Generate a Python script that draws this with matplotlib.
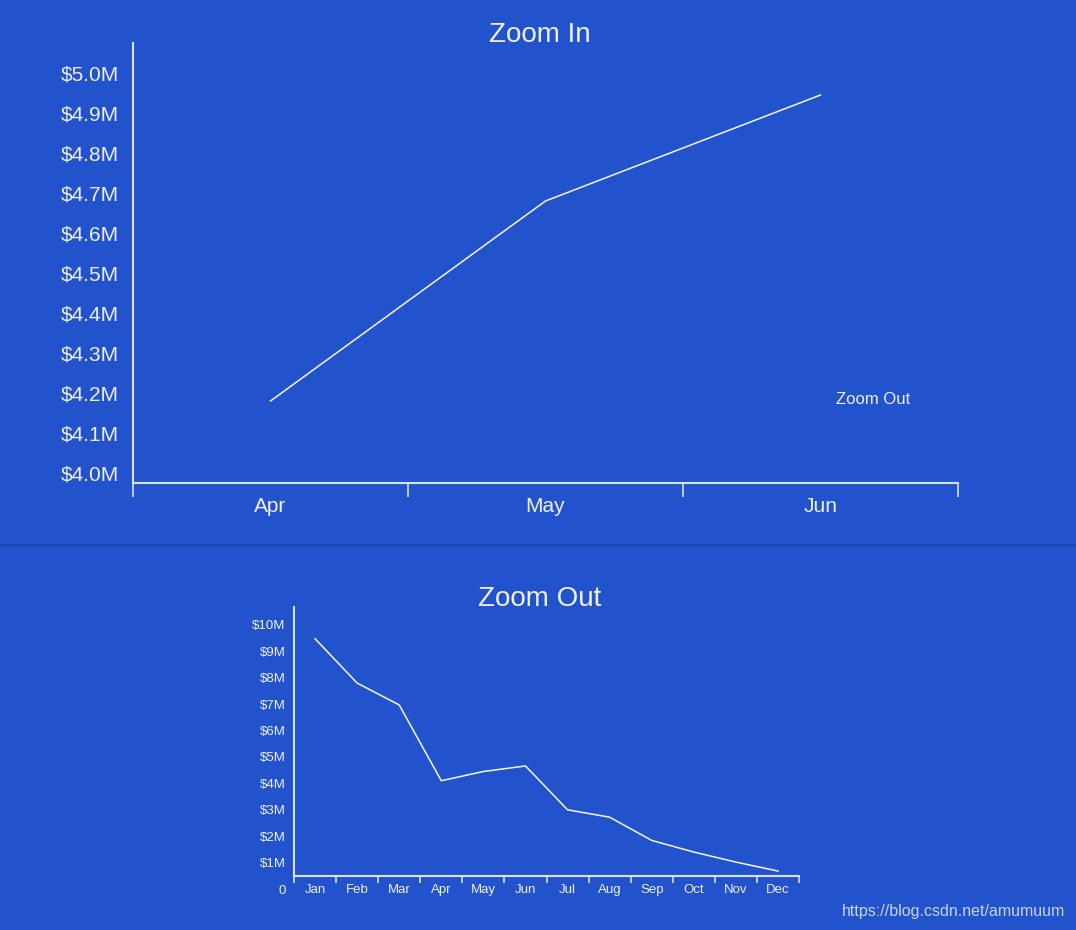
import matplotlib.pyplot as plt
from matplotlib.lines import Line2D
from matplotlib.ticker import FixedLocator, FuncFormatter

BG    = '#2353CC'
FG    = '#EEF1FA'
LINE  = '#F4F6FC'
SPINE = '#D8E0F4'

plt.rcParams['font.family'] = ['Liberation Sans', 'DejaVu Sans']

# Zoom In data (millions)
q_months = ['Apr', 'May', 'Jun']
q_values = [4.18, 4.68, 4.945]
q_ticks  = [4.0, 4.1, 4.2, 4.3, 4.4, 4.5, 4.6, 4.7, 4.8, 4.9, 5.0]

# Zoom Out data (millions)
y_months = ['Jan', 'Feb', 'Mar', 'Apr', 'May', 'Jun',
            'Jul', 'Aug', 'Sep', 'Oct', 'Nov', 'Dec']
y_values = [9.48, 7.8, 6.97, 4.1, 4.45, 4.66,
            3.0, 2.72, 1.84, 1.4, 1.02, 0.68]
y_ticks  = [0, 1, 2, 3, 4, 5, 6, 7, 8, 9, 10]


def style_axes(ax):
    ax.set_facecolor(BG)
    for side in ['top', 'right']:
        ax.spines[side].set_visible(False)
    for side in ['left', 'bottom']:
        ax.spines[side].set_color(SPINE)
        ax.spines[side].set_linewidth(1.5)


fig = plt.figure(figsize=(10.76, 9.30), dpi=100, facecolor=BG)

# ---- top chart ----
ax1 = fig.add_axes([133 / 1076, 1 - 483 / 930, 825 / 1076, 440 / 930])
style_axes(ax1)
n = len(q_months)
ax1.plot(range(n), q_values, color=LINE, linewidth=1.1)
ax1.set_xlim(-0.5, n - 0.5)
ax1.set_ylim(3.975, 5.075)
ax1.set_yticks(q_ticks)
ax1.yaxis.set_major_formatter(FuncFormatter(lambda v, _: f'${v:.1f}M'))
ax1.tick_params(axis='y', length=0, pad=10, labelsize=15, labelcolor=FG)
ax1.xaxis.set_major_locator(FixedLocator([i - 0.5 for i in range(n + 1)]))
ax1.xaxis.set_minor_locator(FixedLocator(list(range(n))))
ax1.set_xticklabels([], minor=False)
ax1.set_xticklabels(q_months, minor=True)
ax1.tick_params(axis='x', which='major', length=10, width=1.2, color=SPINE)
ax1.tick_params(axis='x', which='minor', length=0, pad=10, labelsize=15, labelcolor=FG)

fig.text(540 / 1076, 1 - 35 / 930, 'Zoom In', ha='center', va='center',
         fontsize=20, color=FG)
fig.text(873 / 1076, 1 - 399 / 930, 'Zoom Out', ha='center', va='center',
         fontsize=12, color=FG)

# divider
fig.add_artist(Line2D([0, 1], [1 - 545 / 930] * 2, transform=fig.transFigure,
                      color='#1C45B2', linewidth=1.5))

# ---- bottom chart ----
ax2 = fig.add_axes([294 / 1076, 1 - 889 / 930, 505 / 1076, 282 / 930])
style_axes(ax2)
m = len(y_months)
ax2.plot(range(m), y_values, color=LINE, linewidth=1.1)
ax2.set_xlim(-0.5, m - 0.5)
ax2.set_ylim(0, 10.68)
ax2.spines['bottom'].set_position(('data', 0.49))
ax2.spines['left'].set_bounds(0.49, 10.68)
ax2.set_yticks(y_ticks)
ax2.yaxis.set_major_formatter(FuncFormatter(lambda v, _: '0' if v == 0 else f'${v:.0f}M'))
ax2.tick_params(axis='y', length=0, pad=6, labelsize=9.5, labelcolor=FG)
ax2.xaxis.set_major_locator(FixedLocator([i - 0.5 for i in range(m + 1)]))
ax2.xaxis.set_minor_locator(FixedLocator(list(range(m))))
ax2.set_xticklabels([], minor=False)
ax2.set_xticklabels(y_months, minor=True)
ax2.tick_params(axis='x', which='major', length=5, width=1.2, color=SPINE)
ax2.tick_params(axis='x', which='minor', length=0, pad=6, labelsize=9.5, labelcolor=FG)

fig.text(540 / 1076, 1 - 599 / 930, 'Zoom Out', ha='center', va='center',
         fontsize=20, color=FG)

fig.text(1065 / 1076, 1 - 911 / 930, 'https://blog.csdn.net/amumuum',
         ha='right', va='center', fontsize=11.5, color='#C9D3EE')

fig.savefig('out.png', dpi=100, facecolor=BG)
